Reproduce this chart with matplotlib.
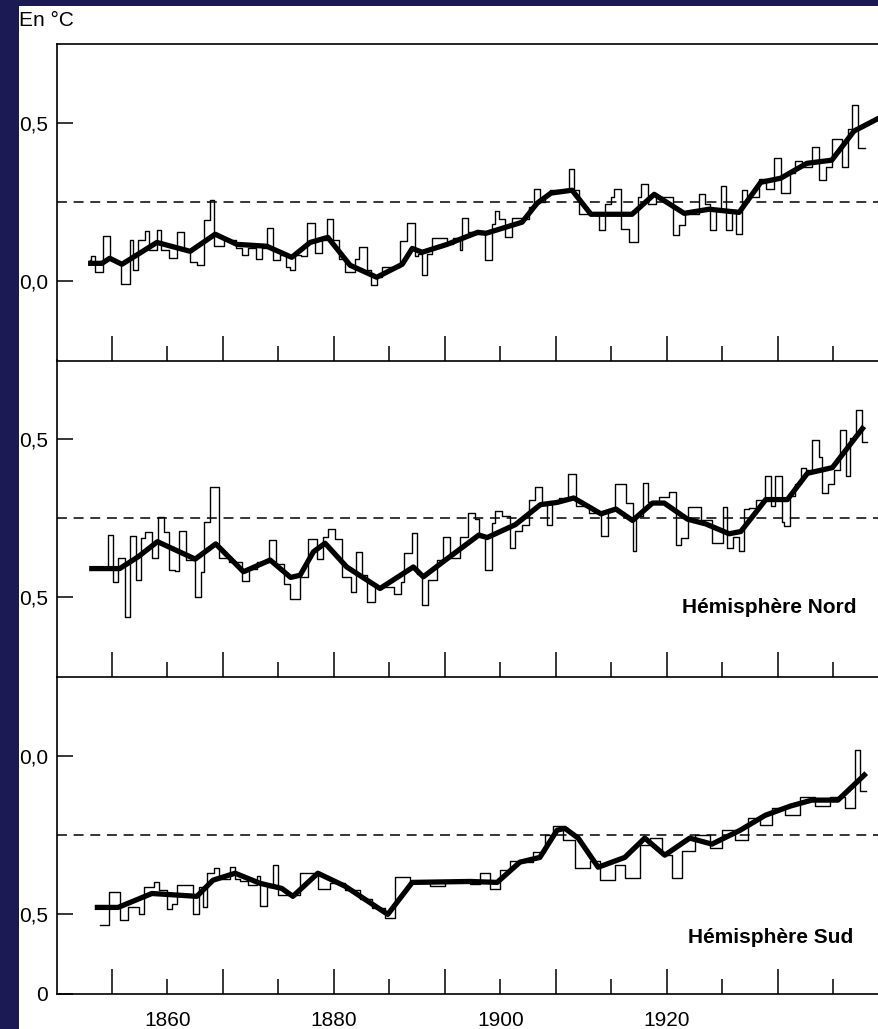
import numpy as np
import matplotlib
matplotlib.use("Agg")
import matplotlib.pyplot as plt
from matplotlib.patches import Rectangle
from matplotlib.transforms import blended_transform_factory

plt.rcParams['font.family'] = ['Liberation Sans', 'DejaVu Sans']

# ---- data (anomalies) ----
# global: annual steps (left edges + last right edge) and the smoothed curve
glob_edges = [1856.0, 1856.3, 1856.9, 1858.4, 1859.6, 1860.5, 1861.7, 1863.2, 1863.8, 1864.7,
              1865.9, 1866.7, 1868.2, 1868.8, 1870.3, 1871.7, 1872.9, 1874.1, 1875.3, 1876.6,
              1877.7, 1878.3, 1880.1, 1881.3, 1882.3, 1883.5, 1884.6, 1885.9, 1887.1, 1888.0,
              1889.1, 1890.3, 1891.4, 1892.1, 1893.0, 1894.0, 1895.1, 1896.6, 1897.9, 1898.8,
              1899.9, 1900.9, 1902.0, 1903.8, 1904.6, 1905.9, 1906.6, 1907.7, 1908.6, 1911.9,
              1913.1, 1914.6, 1915.2, 1915.8, 1916.7, 1917.6, 1920.3, 1921.5, 1922.7, 1923.0,
              1924.2, 1925.4, 1926.1, 1927.3, 1928.4, 1929.1, 1929.7, 1930.9, 1932.1, 1933.9,
              1935.1, 1936.0, 1937.2, 1938.1, 1939.0, 1942.3, 1943.3, 1944.2, 1947.8, 1948.8,
              1949.9, 1950.5, 1951.7, 1953.2, 1954.8, 1955.4, 1956.6, 1958.0, 1961.1, 1962.2,
              1963.3, 1964.6, 1965.7, 1966.9, 1967.7, 1968.8, 1969.7, 1970.6, 1971.7, 1972.5,
              1973.6, 1974.5, 1976.6, 1977.9, 1979.3, 1980.5, 1982.1, 1983.1, 1984.4, 1986.2,
              1987.3, 1988.6, 1989.8, 1991.5, 1992.7, 1993.4, 1994.5, 1995.7]
glob_vals = [0.066, 0.079, 0.030, 0.144, 0.072, 0.061, -0.007, 0.130, 0.035, 0.130,
             0.158, 0.098, 0.161, 0.098, 0.075, 0.156, 0.098, 0.061, 0.051, 0.195,
             0.258, 0.111, 0.135, 0.130, 0.104, 0.082, 0.104, 0.072, 0.104, 0.169,
             0.066, 0.082, 0.045, 0.035, 0.082, 0.079, 0.186, 0.090, 0.130, 0.198,
             0.130, 0.072, 0.030, 0.072, 0.108, 0.035, -0.010, 0.014, 0.045, 0.126,
             0.184, 0.079, 0.088, 0.019, 0.088, 0.137, 0.119, 0.137, 0.098, 0.200,
             0.156, 0.150, 0.151, 0.066, 0.182, 0.222, 0.198, 0.140, 0.200, 0.198,
             0.235, 0.291, 0.251, 0.272, 0.288, 0.356, 0.288, 0.214, 0.161, 0.246,
             0.267, 0.293, 0.167, 0.124, 0.267, 0.307, 0.246, 0.267, 0.146, 0.177,
             0.214, 0.214, 0.277, 0.246, 0.161, 0.225, 0.301, 0.161, 0.225, 0.151,
             0.288, 0.267, 0.322, 0.291, 0.390, 0.280, 0.341, 0.381, 0.360, 0.425,
             0.320, 0.360, 0.451, 0.362, 0.483, 0.557, 0.422]
glob_smooth_x = [1855.7, 1858.2, 1859.6, 1861.8, 1868.1, 1874.1, 1878.6, 1882.5, 1887.9, 1892.4,
                 1895.7, 1898.9, 1902.9, 1907.7, 1912.3, 1914.1, 1915.9, 1920.4, 1925.9, 1927.4,
                 1933.9, 1936.6, 1939.1, 1942.9, 1946.3, 1953.7, 1957.7, 1963.1, 1967.6, 1973.0,
                 1976.9, 1980.5, 1985.2, 1989.7, 1993.7, 1998.2]
glob_smooth_y = [0.057, 0.057, 0.073, 0.054, 0.123, 0.095, 0.149, 0.117, 0.111, 0.076,
                 0.123, 0.139, 0.051, 0.013, 0.054, 0.104, 0.092, 0.117, 0.155, 0.152,
                 0.187, 0.247, 0.279, 0.288, 0.212, 0.212, 0.275, 0.215, 0.228, 0.218,
                 0.313, 0.326, 0.373, 0.383, 0.475, 0.516]

# northern hemisphere
nord_edges = [1856.0, 1859.3, 1860.2, 1861.1, 1862.3, 1863.2, 1864.4, 1865.2, 1865.9, 1867.3,
              1868.3, 1869.3, 1870.3, 1871.4, 1872.0, 1873.3, 1875.0, 1876.0, 1876.6, 1877.7,
              1879.2, 1881.0, 1883.4, 1884.7, 1886.1, 1888.3, 1889.6, 1891.0, 1892.0, 1893.8,
              1895.4, 1897.0, 1898.1, 1899.0, 1900.2, 1901.4, 1903.0, 1904.0, 1905.0, 1906.0,
              1907.4, 1910.8, 1912.0, 1912.6, 1914.0, 1915.0, 1915.8, 1917.0, 1918.5, 1919.6,
              1920.9, 1922.7, 1924.2, 1925.4, 1926.1, 1927.3, 1928.5, 1929.1, 1930.2, 1931.7,
              1932.6, 1933.9, 1935.1, 1936.3, 1937.4, 1938.3, 1939.2, 1940.5, 1942.1, 1943.6,
              1946.0, 1948.1, 1949.3, 1950.6, 1952.6, 1953.8, 1954.5, 1955.6, 1956.6, 1958.6,
              1960.4, 1961.6, 1962.5, 1963.7, 1966.1, 1968.2, 1970.1, 1970.9, 1971.9, 1972.9,
              1973.9, 1974.8, 1976.0, 1977.7, 1978.7, 1979.5, 1980.7, 1981.1, 1982.1, 1983.1,
              1984.1, 1985.1, 1986.2, 1987.3, 1987.9, 1989.1, 1990.1, 1991.1, 1992.2, 1992.9,
              1994.0, 1995.1, 1996.1]
nord_vals = [0.091, 0.198, 0.049, 0.123, -0.063, 0.195, 0.054, 0.189, 0.205, 0.125,
             0.253, 0.208, 0.086, 0.083, 0.210, 0.118, 0.001, 0.081, 0.237, 0.349,
             0.123, 0.113, 0.052, 0.091, 0.113, 0.182, 0.105, 0.042, -0.006, 0.065,
             0.185, 0.120, 0.192, 0.215, 0.185, 0.065, 0.017, 0.144, 0.070, -0.015,
             0.033, 0.012, 0.049, 0.139, 0.203, 0.075, -0.023, 0.056, 0.118, 0.192,
             0.123, 0.192, 0.268, 0.247, 0.192, 0.086, 0.235, 0.272, 0.256, 0.155,
             0.210, 0.229, 0.309, 0.348, 0.293, 0.229, 0.300, 0.314, 0.391, 0.288,
             0.266, 0.195, 0.277, 0.357, 0.298, 0.147, 0.256, 0.362, 0.300, 0.316,
             0.332, 0.166, 0.187, 0.286, 0.243, 0.171, 0.286, 0.155, 0.192, 0.147,
             0.279, 0.282, 0.309, 0.385, 0.288, 0.383, 0.237, 0.224, 0.320, 0.357,
             0.410, 0.404, 0.497, 0.442, 0.330, 0.357, 0.404, 0.530, 0.383, 0.505,
             0.593, 0.492]
nord_smooth_x = [1855.9, 1861.4, 1864.7, 1868.2, 1875.0, 1878.7, 1883.7, 1888.5, 1892.2, 1893.9,
                 1896.3, 1898.4, 1902.3, 1908.3, 1914.3, 1916.1, 1919.7, 1926.1, 1927.6, 1932.7,
                 1937.2, 1940.2, 1943.2, 1948.1, 1950.8, 1953.8, 1957.4, 1959.5, 1963.7, 1967.0,
                 1971.2, 1973.3, 1977.8, 1981.7, 1985.3, 1989.8, 1995.5]
nord_smooth_y = [0.091, 0.091, 0.128, 0.176, 0.121, 0.169, 0.081, 0.118, 0.063, 0.070,
                 0.144, 0.171, 0.096, 0.028, 0.096, 0.065, 0.113, 0.197, 0.189, 0.230,
                 0.293, 0.300, 0.314, 0.264, 0.279, 0.243, 0.298, 0.298, 0.247, 0.232,
                 0.201, 0.208, 0.309, 0.309, 0.392, 0.410, 0.540]

# southern hemisphere
sud_edges = [1857.8, 1859.4, 1861.4, 1862.9, 1864.8, 1865.8, 1867.5, 1868.5, 1869.9, 1870.8,
             1871.8, 1874.6, 1875.7, 1876.4, 1877.2, 1878.3, 1879.3, 1881.3, 1882.2, 1883.1,
             1884.6, 1886.1, 1886.7, 1887.9, 1889.0, 1890.0, 1893.9, 1897.1, 1899.3, 1902.0,
             1904.7, 1906.8, 1909.2, 1911.0, 1913.7, 1917.3, 1920.0, 1924.5, 1926.3, 1928.1,
             1929.9, 1931.7, 1933.5, 1935.9, 1938.0, 1939.5, 1941.3, 1943.4, 1946.1, 1947.9,
             1950.6, 1952.4, 1955.1, 1956.9, 1959.1, 1960.9, 1962.7, 1965.0, 1967.7, 1969.9,
             1972.3, 1974.6, 1976.8, 1978.9, 1981.3, 1984.0, 1986.7, 1989.4, 1992.1, 1993.9,
             1994.8, 1995.9]
sud_vals = [-0.035, 0.071, -0.019, 0.023, 0.002, 0.086, 0.102, 0.076, 0.018, 0.034,
            0.092, 0.002, 0.086, 0.023, 0.131, 0.148, 0.113, 0.150, 0.113, 0.107,
            0.092, 0.120, 0.028, 0.086, 0.155, 0.060, 0.130, 0.080, 0.100, 0.076,
            0.050, 0.020, -0.013, 0.117, 0.100, 0.090, 0.104, 0.095, 0.130, 0.080,
            0.140, 0.170, 0.165, 0.196, 0.250, 0.278, 0.234, 0.146, 0.170, 0.108,
            0.155, 0.114, 0.218, 0.240, 0.187, 0.114, 0.200, 0.250, 0.209, 0.266,
            0.234, 0.304, 0.282, 0.335, 0.313, 0.370, 0.342, 0.370, 0.335, 0.520,
            0.390]
sud_smooth_x = [1856.9, 1861.1, 1867.2, 1875.3, 1878.2, 1882.2, 1886.7, 1890.6, 1892.6, 1897.1,
                1902.0, 1909.7, 1914.1, 1924.5, 1929.4, 1933.5, 1937.1, 1940.2, 1941.6, 1944.0,
                1947.6, 1952.4, 1956.0, 1959.6, 1964.1, 1968.1, 1973.2, 1977.7, 1982.2, 1986.1,
                1990.8, 1995.9]
sud_smooth_y = [0.022, 0.022, 0.066, 0.057, 0.108, 0.130, 0.098, 0.082, 0.057, 0.130,
                0.089, 0.000, 0.101, 0.104, 0.101, 0.165, 0.180, 0.266, 0.272, 0.241,
                0.149, 0.180, 0.241, 0.187, 0.241, 0.222, 0.266, 0.313, 0.342, 0.361,
                0.361, 0.446]

ytick_labels = [["0,0", "0,5"], ["0,5", "0,5"], ["0,5", "0,0"]]
panel_names = [None, "Hémisphère Nord", "Hémisphère Sud"]
year_labels = ["1860", "1880", "1900", "1920"]
year_label_pos = [1870, 1900, 1930, 1960]

navy = "#1c1a55"
W, H = 879, 1029
fig = plt.figure(figsize=(W / 100, H / 100), dpi=100, facecolor=navy)
fig.patches.append(Rectangle((19 / W, 0), 1, 1 - 6 / H, transform=fig.transFigure,
                             facecolor="white", edgecolor="none", zorder=-10))

tops = [44, 360, 677]
ph = 316.5
name_pos = [None, (857, 613), (853, 943)]   # right edge / baseline in pixels
series = [(glob_edges, glob_vals, glob_smooth_x, glob_smooth_y),
          (nord_edges, nord_vals, nord_smooth_x, nord_smooth_y),
          (sud_edges, sud_vals, sud_smooth_x, sud_smooth_y)]

for i, (ex, ev, sx, sy) in enumerate(series):
    ax = fig.add_axes([57 / W, 1 - (tops[i] + ph) / H, 1 - 57 / W, ph / H])
    ax.set_facecolor("none")
    ax.set_xlim(1850.1, 1998.2)
    ax.set_ylim(-0.25, 0.75)

    ax.step(ex, list(ev) + [ev[-1]], where="post", color="black", lw=1.0)
    ax.plot(sx, sy, color="black", lw=3.8, solid_joinstyle="round", solid_capstyle="butt")
    ax.axhline(0.25, color="black", lw=1.1, dashes=(6.5, 4.4))

    for side in ["right", "top"]:
        ax.spines[side].set_visible(False)
    if i == 0:
        ax.spines["top"].set_visible(True)
    for side in ["left", "bottom", "top"]:
        ax.spines[side].set_linewidth(1.2)

    ax.set_xticks(np.arange(1860, 1981, 20))
    ax.set_xticks(np.arange(1870, 1991, 20), minor=True)
    ax.tick_params(axis="x", which="major", direction="in", length=18, width=1.1, labelbottom=False)
    ax.tick_params(axis="x", which="minor", direction="in", length=10.5, width=1.1, labelbottom=False)

    if i == 2:
        ax.set_yticks([-0.25, 0.0, 0.5], ["0"] + ytick_labels[i])
    else:
        ax.set_yticks([0.0, 0.5], ytick_labels[i])
    ax.tick_params(axis="y", direction="in", length=11.5, width=1.1, pad=6.5, labelsize=15)

    if panel_names[i]:
        px, py = name_pos[i]
        fig.text(px / W, 1 - py / H, panel_names[i], ha="right", va="baseline",
                 fontsize=15, fontweight="bold")

    if i == 2:
        trans = blended_transform_factory(ax.transData, ax.transAxes)
        for pos, lab in zip(year_label_pos, year_labels):
            ax.text(pos, -0.085, lab, transform=trans, ha="center", va="center", fontsize=15)

fig.text(19 / W, 1 - 26 / H, "En °C", ha="left", va="baseline", fontsize=15)

fig.savefig("out.png", dpi=100, facecolor=navy)
